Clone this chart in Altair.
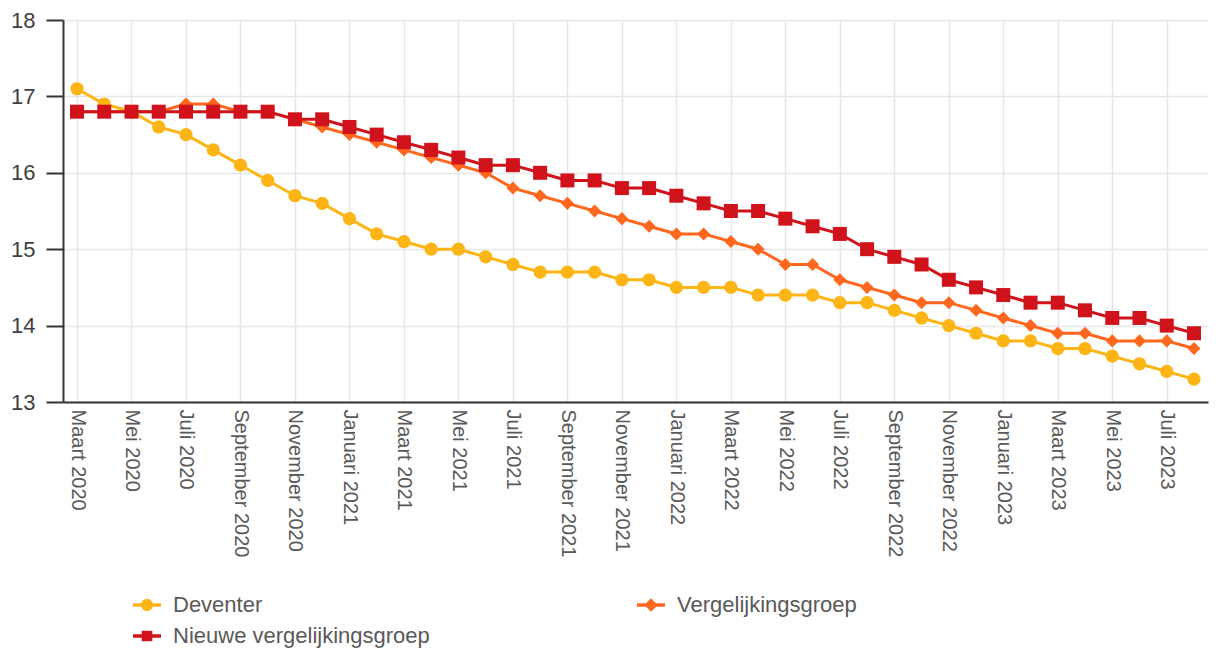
import altair as alt
import pandas as pd

months = [
    "Maart 2020", "April 2020", "Mei 2020", "Juni 2020", "Juli 2020", "Augustus 2020",
    "September 2020", "Oktober 2020", "November 2020", "December 2020",
    "Januari 2021", "Februari 2021", "Maart 2021", "April 2021", "Mei 2021", "Juni 2021",
    "Juli 2021", "Augustus 2021", "September 2021", "Oktober 2021", "November 2021", "December 2021",
    "Januari 2022", "Februari 2022", "Maart 2022", "April 2022", "Mei 2022", "Juni 2022",
    "Juli 2022", "Augustus 2022", "September 2022", "Oktober 2022", "November 2022", "December 2022",
    "Januari 2023", "Februari 2023", "Maart 2023", "April 2023", "Mei 2023", "Juni 2023",
    "Juli 2023", "Augustus 2023",
]

tick_months = [
    "Maart 2020", "Mei 2020", "Juli 2020", "September 2020", "November 2020",
    "Januari 2021", "Maart 2021", "Mei 2021", "Juli 2021", "September 2021", "November 2021",
    "Januari 2022", "Maart 2022", "Mei 2022", "Juli 2022", "September 2022", "November 2022",
    "Januari 2023", "Maart 2023", "Mei 2023", "Juli 2023",
]

y_ticks = [13, 14, 15, 16, 17, 18]

deventer = [
    17.1, 16.9, 16.8, 16.6, 16.5, 16.3, 16.1, 15.9, 15.7, 15.6,
    15.4, 15.2, 15.1, 15.0, 15.0, 14.9, 14.8, 14.7, 14.7, 14.7, 14.6, 14.6,
    14.5, 14.5, 14.5, 14.4, 14.4, 14.4, 14.3, 14.3, 14.2, 14.1, 14.0, 13.9,
    13.8, 13.8, 13.7, 13.7, 13.6, 13.5, 13.4, 13.3,
]

vergelijkingsgroep = [
    16.8, 16.8, 16.8, 16.8, 16.9, 16.9, 16.8, 16.8, 16.7, 16.6,
    16.5, 16.4, 16.3, 16.2, 16.1, 16.0, 15.8, 15.7, 15.6, 15.5, 15.4, 15.3,
    15.2, 15.2, 15.1, 15.0, 14.8, 14.8, 14.6, 14.5, 14.4, 14.3, 14.3, 14.2,
    14.1, 14.0, 13.9, 13.9, 13.8, 13.8, 13.8, 13.7,
]

nieuwe = [
    16.8, 16.8, 16.8, 16.8, 16.8, 16.8, 16.8, 16.8, 16.7, 16.7,
    16.6, 16.5, 16.4, 16.3, 16.2, 16.1, 16.1, 16.0, 15.9, 15.9, 15.8, 15.8,
    15.7, 15.6, 15.5, 15.5, 15.4, 15.3, 15.2, 15.0, 14.9, 14.8, 14.6, 14.5,
    14.4, 14.3, 14.3, 14.2, 14.1, 14.1, 14.0, 13.9,
]

series_names = ["Deventer", "Vergelijkingsgroep", "Nieuwe vergelijkingsgroep"]
series_values = [deventer, vergelijkingsgroep, nieuwe]
colors = ["#FDB515", "#FF671F", "#D0121B"]
point_shapes = ["circle", "diamond", "square"]
point_sizes = [175, 170, 196]
legend_shapes = [
    "M-1,-0.13H1V0.13H-1Z M-0.43,0A0.43,0.43 0 1,1 0.43,0A0.43,0.43 0 1,1 -0.43,0Z",
    "M-1,-0.13H1V0.13H-1Z M0,-0.48L0.48,0L0,0.48L-0.48,0Z",
    "M-1,-0.13H1V0.13H-1Z M-0.38,-0.38H0.38V0.38H-0.38Z",
]

rows = []
for name, vals in zip(series_names, series_values):
    for i, (m, v) in enumerate(zip(months, vals)):
        rows.append({"month": m, "idx": i, "series": name, "value": v})
df = pd.DataFrame(rows)

grid_color = "#e6e6e6"

x_enc = alt.X(
    "month:N",
    scale=alt.Scale(type="point", domain=months, padding=0.514),
    axis=alt.Axis(
        values=tick_months, labelAngle=90, grid=True, gridColor=grid_color, gridWidth=1.5,
        ticks=False, domainColor="#333333", domainWidth=2, labelFontSize=20,
        labelColor="#595959", labelPadding=7, title=None, labelOverlap=False, labelLimit=300,
    ),
)
y_enc = alt.Y(
    "value:Q",
    scale=alt.Scale(domain=[13, 18], nice=False, zero=False),
    axis=alt.Axis(
        values=y_ticks, tickSize=17, tickColor="#333333", tickWidth=2,
        domainColor="#333333", domainWidth=2, labelFontSize=22, labelColor="#404040",
        labelPadding=11, gridColor=grid_color, gridWidth=1.5, title=None,
    ),
)

base = alt.Chart(df)
layers = []
for name, color, shp, sz in zip(series_names, colors, point_shapes, point_sizes):
    sub = base.transform_filter(alt.datum.series == name)
    layers.append(
        sub.mark_line(color=color, strokeWidth=3).encode(
            x=x_enc, y=y_enc, order=alt.Order("idx:Q")
        )
    )
    layers.append(
        sub.mark_point(filled=True, opacity=1, color=color, shape=shp, size=sz).encode(
            x=x_enc, y=y_enc
        )
    )

legend_def = alt.Legend(
    orient="none", legendX=70, legendY=571, direction="horizontal", columns=2,
    columnPadding=207, rowPadding=6, symbolSize=784, symbolStrokeWidth=0,
    labelFontSize=22, labelColor="#595959", labelLimit=400, labelOffset=12,
    title=None, padding=0,
)

legend_layer = base.transform_filter("false").mark_point(filled=True, opacity=1).encode(
    color=alt.Color("series:N", scale=alt.Scale(domain=series_names, range=colors), legend=legend_def),
    shape=alt.Shape("series:N", scale=alt.Scale(domain=series_names, range=legend_shapes), legend=legend_def),
)
layers.append(legend_layer)

chart = (
    alt.layer(*layers)
    .properties(
        width=1145, height=382, autosize="none",
        padding={"left": 55, "top": 12, "right": 2, "bottom": 246},
    )
    .configure(font="Liberation Sans")
    .configure_view(strokeWidth=0)
)

chart.save("out.html", embed_options={"renderer": "svg", "actions": False})
